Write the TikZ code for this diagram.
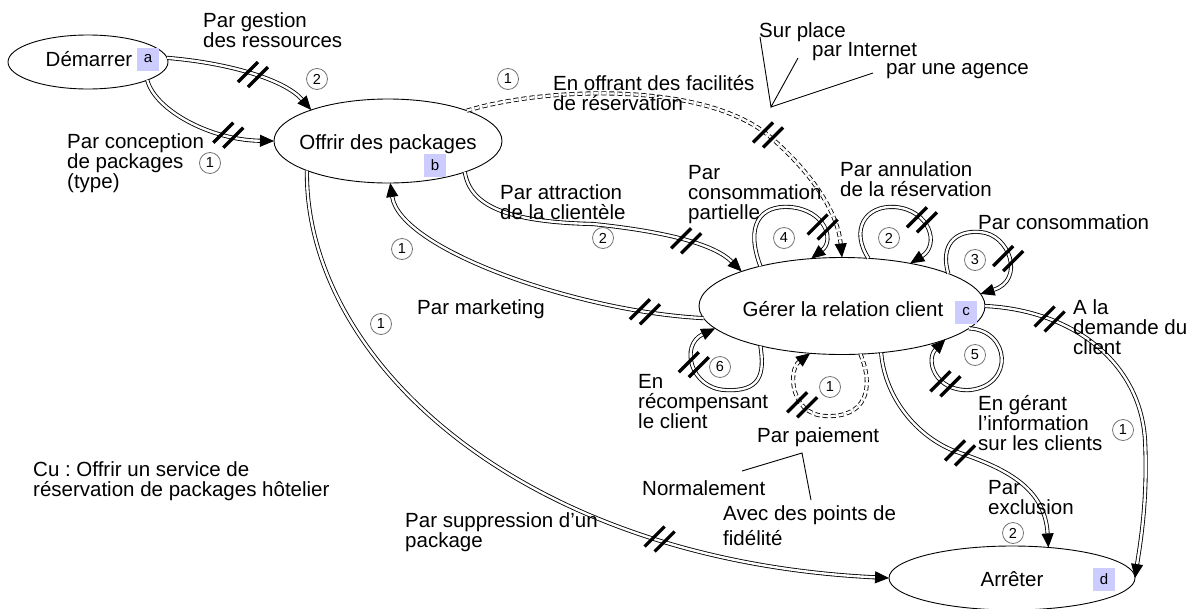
\documentclass[tikz,border=0pt]{standalone}
\usepackage{fontspec}
\setmainfont{Liberation Sans}
\usetikzlibrary{shapes.geometric, arrows.meta}
\definecolor{lav}{HTML}{CCCCFF}
\frenchspacing
\tikzset{
  hashmark/.pic={\draw[line width=3.3pt, line cap=butt] (-15,7.5) -- (5,-12.5) (-5,12.5) -- (15,-7.5);}
}
\begin{document}
\begin{tikzpicture}[x=1pt, y=-1pt,
  every node/.style={font=\fontsize{20.5}{20}\selectfont},
  goal/.style={ellipse, draw, line width=0.9pt, inner sep=0pt, outer sep=0pt},
  gtext/.style={inner sep=0pt},
  tag/.style={fill=lav, minimum width=22pt, minimum height=23pt, inner sep=0pt, font=\fontsize{15}{15}\selectfont},
  num/.style={circle, draw=black!55, line width=0.8pt, inner sep=0pt, minimum size=21pt, font=\fontsize{14.5}{14.5}\selectfont},
  lbl/.style={anchor=north west, align=left, inner sep=0pt},
  strat/.style={double, double distance=2.4pt, line width=0.85pt, -{Triangle[length=14pt,width=12pt]}},
  dstrat/.style={strat, dash pattern=on 5pt off 3pt},
  pointer/.style={line width=0.9pt},
]
\useasboundingbox (0,0) rectangle (1198,608);

% intentions
\node[goal, minimum width=160pt, minimum height=54pt] (dem) at (88,62) {};
\node[gtext] (demT) at (89,59) {Démarrer};
\node[tag] (ta) at (148,59) {a};
\node[goal, minimum width=228pt, minimum height=84pt] (off) at (388,141) {};
\node[gtext] (offT) at (388,144) {Offrir des packages};
\node[tag] (tb) at (435,165) {b};
\node[goal, minimum width=286pt, minimum height=97pt] (ger) at (842,306) {};
\node[gtext] (gerT) at (843,309) {Gérer la relation client};
\node[tag] (tc) at (966,312) {c};
\node[goal, minimum width=246pt, minimum height=64pt] (arr) at (1012,578) {};
\node[gtext] (arrT) at (1012,579) {Arrêter};
\node[tag] (td) at (1104,579) {d};

% strategies
\draw[strat] (dem.3) .. controls (230,63) and (285,80) .. (off.158) coordinate[pos=0.5] (h1);
\draw[strat] (dem.-17) .. controls (155,110) and (210,140) .. (off.west) coordinate[pos=0.75] (h2);
\draw[dstrat] (off.21) .. controls (540,88) and (700,80) .. (768,135) coordinate (h3) .. controls (815,175) and (838,215) .. (ger.north);
\draw[strat] (off.-22) .. controls (470,205) and (505,222) .. (593,224) .. controls (670,232) and (715,245) .. (ger.161) coordinate[pos=0.5] (h4);
\draw[strat] (ger.185) .. controls (580,312) and (400,250) .. (off.-87) coordinate[pos=0.15] (h5);
\draw[strat] (off.200) .. controls (305,360) and (520,560) .. (arr.west) coordinate[pos=0.77] (h6);
\draw[strat] (ger.east) .. controls (1070,310) and (1140,360) .. (1145,440) coordinate[pos=0.27] (h7) .. controls (1148,500) and (1140,545) .. (arr.east);
\draw[strat] (ger.-50) .. controls (885,400) and (920,440) .. (960,453) coordinate (h8) .. controls (1010,470) and (1045,490) .. (arr.40);
% loops on Gerer
\draw[strat] (ger.154) .. controls (745,225) and (760,205) .. (790,207) .. controls (825,210) and (835,240) .. (ger.123) coordinate[pos=0.5] (hL4);
\draw[strat] (ger.61) .. controls (850,230) and (865,205) .. (895,207) .. controls (930,210) and (940,245) .. (ger.32) coordinate[pos=0.35] (hL2);
\draw[strat] (ger.17) .. controls (940,245) and (955,230) .. (980,232) .. controls (1010,234) and (1025,280) .. (ger.5) coordinate[pos=0.5] (hL3);
\draw[strat] (ger.-10) .. controls (1010,330) and (1015,385) .. (970,390) .. controls (935,392) and (925,360) .. (ger.-18) coordinate[pos=0.3] (hL5);
\draw[strat] (ger.206) .. controls (765,375) and (760,392) .. (725,390) .. controls (690,388) and (680,345) .. (ger.190) coordinate[pos=0.5] (hL6);
\draw[dstrat] (ger.-69) .. controls (875,390) and (865,418) .. (825,416) .. controls (790,414) and (788,370) .. (ger.236) coordinate[pos=0.3] (hL1);

\foreach \h in {h1,h2,h3,h4,h5,h6,h7,h8,hL1,hL2,hL3,hL4,hL5,hL6}
  \pic at (\h) {hashmark};

% circled numbers
\node[num] (n1) at (317,79) {2};
\node[num] (n2) at (210,163) {1};
\node[num] (n3) at (508,79) {1};
\node[num] (n4) at (603,238) {2};
\node[num] (n5) at (402,249) {1};
\node[num] (n6) at (381,324) {1};
\node[num] (n7) at (784,238) {4};
\node[num] (n8) at (889,238) {2};
\node[num] (n9) at (975,260) {3};
\node[num] (n10) at (975,355) {5};
\node[num] (n11) at (720,367) {6};
\node[num] (n12) at (830,387) {1};
\node[num] (n13) at (1123,430) {1};
\node[num] (n14) at (1013,533) {2};

% labels
\node[lbl] (l1) at (203,12) {Par gestion\\des ressources};
\node[lbl] (l2) at (67,133) {Par conception\\de packages\\(type)};
\node[lbl] (l3) at (553,75) {En offrant des facilités\\de réservation};
\node[lbl] (sp1) at (759,22) {Sur place};
\node[lbl] (sp2) at (812,42) {par Internet};
\node[lbl] (sp3) at (886,63) {par une agence};
\node[lbl] (l4) at (500,184) {Par attraction\\de la clientèle};
\node[lbl] (l5) at (688,165) {Par\\consommation\\partielle};
\node[lbl] (l6) at (840,161) {Par annulation\\de la réservation};
\node[lbl] (l7) at (978,214) {Par consommation};
\node[lbl] (l8) at (1073,299) {A la\\demande du\\client};
\node[lbl] (l9) at (417,299) {Par marketing};
\node[lbl] (l10) at (638,374) {En\\récompensant\\le client};
\node[lbl] (l11) at (757,427) {Par paiement};
\node[lbl] (pp1) at (642,480) {Normalement};
\node[lbl] (pp2) at (723,505) {Avec des points de\\[5pt]fidélité};
\node[lbl] (l12) at (978,395) {En gérant\\l’information\\sur les clients};
\node[lbl] (l13) at (988,480) {Par\\exclusion};
\node[lbl] (l14) at (405,512) {Par suppression d’un\\package};
\node[lbl] (cu) at (33,461) {Cu : Offrir un service de\\réservation de packages hôtelier};

% pointer lines
\coordinate (spv) at (771,107);
\coordinate (spa) at (760,37);
\coordinate (spb) at (798,58);
\coordinate (spc) at (873,73);
\draw[pointer] (spa) -- (spv) -- (spb) (spv) -- (spc);
\coordinate (ppv) at (802,453);
\coordinate (ppa) at (742,471);
\coordinate (ppb) at (811,500);
\draw[pointer] (ppa) -- (ppv) -- (ppb);
\end{tikzpicture}
\end{document}
